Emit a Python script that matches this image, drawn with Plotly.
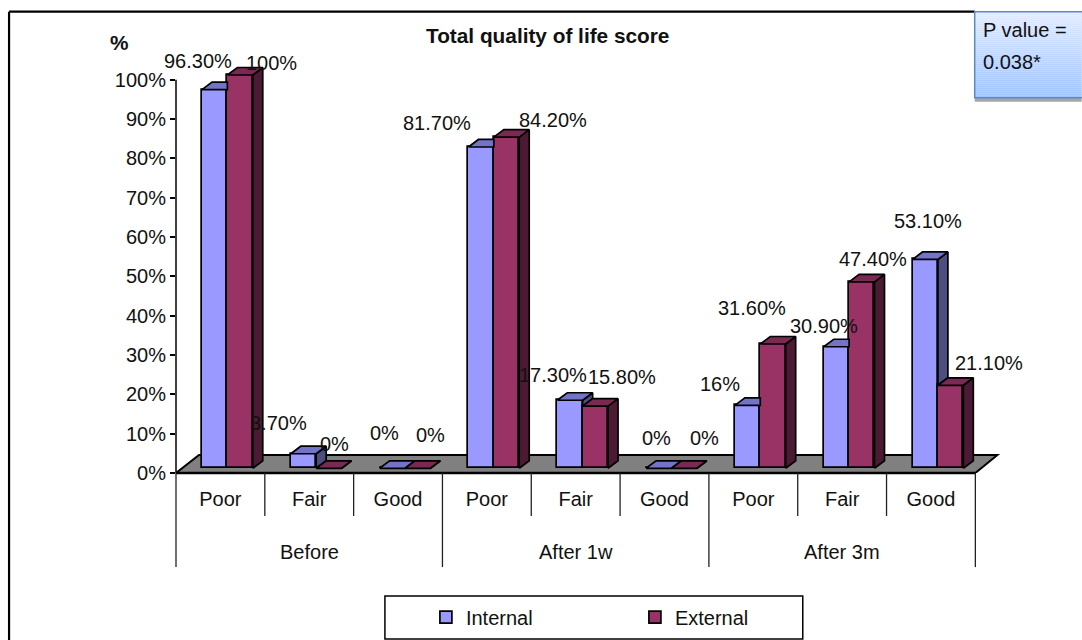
import plotly.graph_objects as go

# ---- data ----
groups = ["Before", "After 1w", "After 3m"]
levels = ["Poor", "Fair", "Good", "Poor", "Fair", "Good", "Poor", "Fair", "Good"]
internal = [96.3, 3.7, 0, 81.7, 17.3, 0, 16, 30.9, 53.1]
external = [100, 0, 0, 84.2, 15.8, 0, 31.6, 47.4, 21.1]
internal_labels = ["96.30%", "3.70%", "0%", "81.70%", "17.30%", "0%", "16%", "30.90%", "53.10%"]
external_labels = ["100%", "0%", "0%", "84.20%", "15.80%", "0%", "31.60%", "47.40%", "21.10%"]

# ---- layout constants ----
W, H = 1082, 640
X0, CAT_W = 176.0, 88.85
Y0, Y_UNIT = 473.0, 3.93
Y_MAX = 104
PLOT_W, PLOT_H = 9.3 * CAT_W, Y_MAX * Y_UNIT
PLOT_T = Y0 - PLOT_H
FONT = "Liberation Sans, Arial, sans-serif"
FS = 20
BASE = 1.2
DX, DY = 10 / CAT_W, 7.5 / Y_UNIT
BAR_W, BAR_OFF = 25.4 / CAT_W, 26.0 / CAT_W
INT_FILL, INT_TOP, INT_SIDE = "#9999FF", "#7373C8", "#4D4D80"
EXT_FILL, EXT_TOP, EXT_SIDE = "#993366", "#7A2952", "#4D1A33"

# label centres on the page (internal, external), px
int_label_px = [(198, 61), (279, 423), (385, 433), (437, 123), (553, 375), (657, 438), (720, 384), (824, 326), (928, 221)]
ext_label_px = [(272, 63), (335, 444), (431, 435), (553, 120), (622, 377), (705, 438), (752, 308), (873, 259), (989, 363)]


def px(x):
    return (x - X0) / PLOT_W


def py(y):
    return 1 - (y - PLOT_T) / PLOT_H


xs = list(range(len(levels)))
left = [i + BAR_OFF for i in xs]
mid = [i + BAR_OFF + BAR_W for i in xs]
right = [i + BAR_OFF + 2 * BAR_W for i in xs]


def faces(polys):
    xo, yo = [], []
    for p in polys:
        xo += [a for a, _ in p] + [p[0][0], None]
        yo += [b for _, b in p] + [p[0][1], None]
    return xo, yo


int_side, int_top, ext_side, ext_top = [], [], [], []
for i in xs:
    a, b, c = left[i], mid[i], right[i]
    ti, te = internal[i] + BASE, external[i] + BASE
    if internal[i] > external[i]:
        int_side.append([(b, te), (b + DX, te + DY), (b + DX, ti + DY), (b, ti)])
    if external[i] > internal[i]:
        int_top.append([(a, ti), (b, ti), (b, ti + DY), (a + DX, ti + DY)])
    else:
        int_top.append([(a, ti), (b, ti), (b + DX, ti + DY), (a + DX, ti + DY)])
    ext_side.append([(c, BASE), (c + DX, BASE + DY), (c + DX, te + DY), (c, te)])
    ext_top.append([(b, te), (c, te), (c + DX, te + DY), (b + DX, te + DY)])

fig = go.Figure()
line = dict(color="black", width=1.7)
fig.add_bar(x=xs, y=internal, base=BASE, offset=BAR_OFF, width=BAR_W, name="Internal",
            marker=dict(color=INT_FILL, line=line), cliponaxis=False, hoverinfo="skip")
fig.add_bar(x=xs, y=external, base=BASE, offset=BAR_OFF + BAR_W, width=BAR_W, name="External",
            marker=dict(color=EXT_FILL, line=line), cliponaxis=False, hoverinfo="skip")
for polys, col in [(int_side, INT_SIDE), (int_top, INT_TOP), (ext_side, EXT_SIDE), (ext_top, EXT_TOP)]:
    xo, yo = faces(polys)
    fig.add_scatter(x=xo, y=yo, mode="lines", fill="toself", fillcolor=col, line=line,
                    showlegend=False, cliponaxis=False, hoverinfo="skip")

tf = dict(size=FS, color="#111111", family=FONT)
ann = []
for vals, labs, pos, off in [(internal, internal_labels, int_label_px, BAR_OFF + BAR_W / 2),
                             (external, external_labels, ext_label_px, BAR_OFF + 1.5 * BAR_W)]:
    for i, (v, t, (lx, ly)) in enumerate(zip(vals, labs, pos)):
        ann.append(dict(x=i + off, y=v, text=t, showarrow=False, xanchor="center", yanchor="middle",
                        xshift=lx - (X0 + (i + off) * CAT_W), yshift=(Y0 - v * Y_UNIT) - ly, font=tf))
for k, g in enumerate(groups):
    ann.append(dict(xref="x", yref="paper", x=3 * k + 1.5, y=py(552), text=g, showarrow=False,
                    xanchor="center", yanchor="middle", font=tf))
bold = dict(size=20.8, color="#111111", family=FONT)
ann.append(dict(xref="paper", yref="paper", x=px(548), y=py(36), text="<b>Total quality of life score</b>",
                showarrow=False, xanchor="center", yanchor="middle", font=bold))
ann.append(dict(xref="paper", yref="paper", x=px(119), y=py(43), text="<b>%</b>", showarrow=False,
                xanchor="center", yanchor="middle", font=bold))
ann.append(dict(xref="paper", yref="paper", x=px(981), y=py(30), text="P value =", showarrow=False,
                xanchor="left", yanchor="middle", font=tf))
ann.append(dict(xref="paper", yref="paper", x=px(981), y=py(62), text="0.038*", showarrow=False,
                xanchor="left", yanchor="middle", font=tf))

shapes = []
shapes.append(dict(type="path", layer="below", xref="x", yref="y", fillcolor="#808080",
                   line=dict(color="black", width=2),
                   path=f"M 0 0 L 9 0 L {9 + 22 / CAT_W} {18 / Y_UNIT} L {23 / CAT_W} {18 / Y_UNIT} Z"))


def pline(x0, y0, x1, y1, w=1.5, col="black"):
    return dict(type="line", xref="paper", yref="paper", x0=px(x0), y0=py(y0), x1=px(x1), y1=py(y1),
                line=dict(color=col, width=w))


shapes.append(pline(9, 12, 975, 12, 2.2))
shapes.append(pline(9, 12, 9, 640, 2.2))
shapes.append(pline(X0, Y0, X0 + 9 * CAT_W, Y0, 2.4))
shapes.append(pline(X0, Y0, X0, Y0 - 100 * Y_UNIT, 1.5))
for i in range(10):
    bottom = 567 if i % 3 == 0 else 516
    xp = X0 + i * CAT_W
    shapes.append(pline(xp, Y0, xp, bottom, 1.3, "#222222"))

# P value box: vertical gradient from strips
N = 43
c0, c1 = (226, 235, 255), (157, 195, 255)
shapes.append(dict(type="rect", xref="paper", yref="paper", x0=px(975), x1=px(1082), y0=py(98), y1=py(102),
                   fillcolor="#A6A6A6", line_width=0))
for k in range(N):
    t = k / (N - 1)
    col = "rgb(%d,%d,%d)" % tuple(round(a + (b - a) * t) for a, b in zip(c0, c1))
    shapes.append(dict(type="rect", xref="paper", yref="paper", x0=px(975), x1=px(1082),
                       y0=py(12 + k * 2), y1=py(14 + k * 2), fillcolor=col, line_width=0, layer="below"))
shapes.append(dict(type="rect", xref="paper", yref="paper", x0=px(975), x1=px(1083), y0=py(12), y1=py(98),
                   fillcolor="rgba(0,0,0,0)", line=dict(color="#5B8BC4", width=1.5)))
# legend frame
shapes.append(dict(type="rect", xref="paper", yref="paper", x0=px(385), x1=px(803), y0=py(596), y1=py(639),
                   fillcolor="rgba(0,0,0,0)", line=dict(color="black", width=1.5)))

fig.update_layout(
    width=W, height=H, autosize=False,
    margin=dict(l=X0, r=W - X0 - PLOT_W, t=PLOT_T, b=H - Y0, pad=0, autoexpand=False),
    paper_bgcolor="white", plot_bgcolor="rgba(0,0,0,0)",
    barmode="overlay", bargap=0,
    font=dict(family=FONT, size=FS, color="#111111"),
    xaxis=dict(range=[0, 9.3], tickmode="array", tickvals=[i + 0.5 for i in xs], ticktext=levels,
               showgrid=False, zeroline=False, showline=False, ticks="", ticklabelstandoff=12, fixedrange=True,
               tickangle=0, tickfont=tf),
    yaxis=dict(range=[0, Y_MAX], tickmode="array", tickvals=list(range(0, 101, 10)),
               ticktext=[f"{v}%" for v in range(0, 101, 10)], showgrid=False, zeroline=False,
               showline=False, ticks="outside", ticklen=5, tickwidth=1.5,
               tickcolor="black", fixedrange=True, tickfont=tf),
    legend=dict(orientation="h", x=px(426), y=py(617), xanchor="left", yanchor="middle",
                bgcolor="rgba(0,0,0,0)", borderwidth=0, entrywidth=164, entrywidthmode="pixels",
                font=tf),
    annotations=ann, shapes=shapes, showlegend=True,
)
fig.write_html("out.html", config={"displayModeBar": False},
               post_script="document.body.style.margin='0';")
